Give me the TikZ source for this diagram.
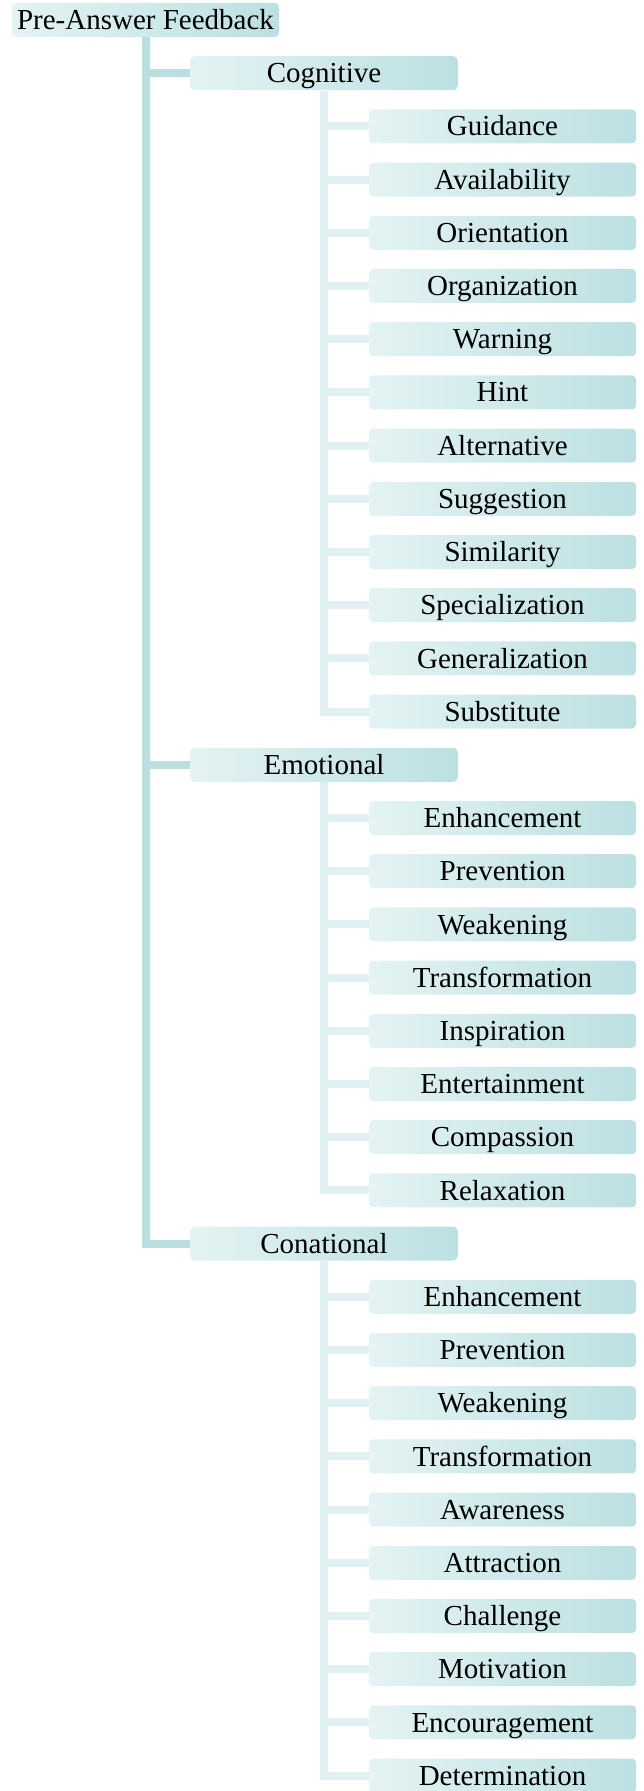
\documentclass[tikz,border=0pt]{standalone}
\usepackage{fontspec}
\setmainfont{Liberation Serif}
\usetikzlibrary{positioning}
\definecolor{fbpale}{HTML}{E4F3F3}
\definecolor{fbdeep}{HTML}{BCE0E2}
\definecolor{fbtrunk}{HTML}{BBDFE1}
\definecolor{fbtwig}{HTML}{E1F1F1}
\tikzset{
  fbox/.style ={rounded corners=2pt, left color=fbpale, middle color=fbpale!70!fbdeep,
                right color=fbdeep, minimum width=133.5pt, minimum height=17pt,
                inner sep=0pt, text height=11.3pt, text depth=1.7pt,
                font=\fontsize{14.5}{17}\selectfont},
  trunk/.style={draw=fbtrunk, line width=4pt},
  twig/.style ={draw=fbtwig, line width=4pt},
}
\begin{document}
\begin{tikzpicture}[x=0.5pt,y=-0.5pt]
  \useasboundingbox (0,0) rectangle (643,1791);
  % --- root and first level ---
  \node[fbox] (pre) at (145.5,20) {Pre-Answer Feedback};
  \node[fbox] (cog) at (324,73.2) {Cognitive};
  \node[fbox] (emo) at (324,764.8) {Emotional};
  \node[fbox] (con) at (324,1243.6) {Conational};
  % --- leaves ---
  \foreach \t [count=\i] in {Guidance,Availability,Orientation,Organization,Warning,Hint,
      Alternative,Suggestion,Similarity,Specialization,Generalization,Substitute}
      \node[fbox] (cog\i) at (502.5,20+53.2*\i+53.2) {\t};
  \foreach \t [count=\i] in {Enhancement,Prevention,Weakening,Transformation,Inspiration,
      Entertainment,Compassion,Relaxation}
      \node[fbox] (emo\i) at (502.5,764.8+53.2*\i) {\t};
  \foreach \t [count=\i] in {Enhancement,Prevention,Weakening,Transformation,Awareness,
      Attraction,Challenge,Motivation,Encouragement,Determination}
      \node[fbox] (con\i) at (502.5,1243.6+53.2*\i) {\t};
  % --- connectors ---
  \foreach \n in {cog,emo,con}
      \draw[trunk] (pre.south) |- (\n.west);
  \foreach \i in {1,...,12}
      \draw[twig] (cog.south) |- (cog\i.west);
  \foreach \i in {1,...,8}
      \draw[twig] (emo.south) |- (emo\i.west);
  \foreach \i in {1,...,10}
      \draw[twig] (con.south) |- (con\i.west);
\end{tikzpicture}
\end{document}
